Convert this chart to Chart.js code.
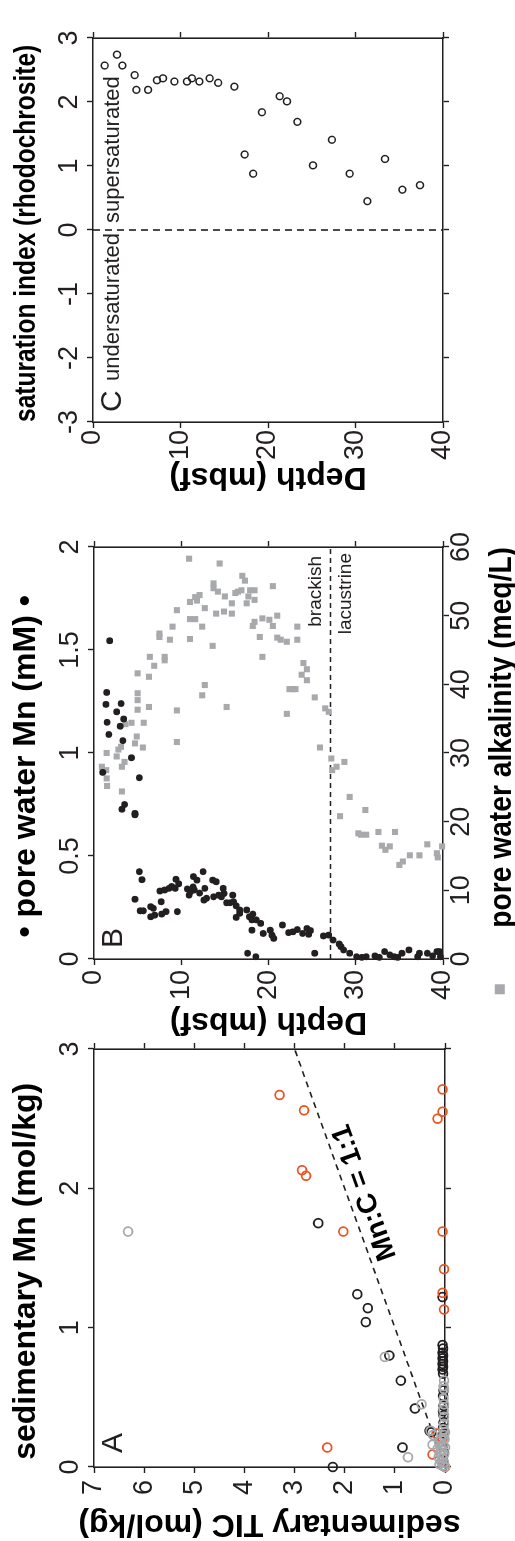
<!DOCTYPE html>
<html>
<head>
<meta charset="utf-8">
<script src="https://cdn.jsdelivr.net/npm/chart.js@4.4.0/dist/chart.umd.min.js"></script>
<style>
html, body { margin: 0; padding: 0; background: #fff; overflow: hidden; }
#fig { position: absolute; left: 0; top: 0; width: 1541px; height: 515px; transform-origin: 0 0; transform: translateY(1541px) rotate(-90deg); }
#fig canvas { position: absolute; top: 0; }
</style>
</head>
<body>
<div id="fig">
  <canvas id="chartA" width="500" height="515" style="left:0px"></canvas>
  <canvas id="chartB" width="545" height="515" style="left:500px"></canvas>
  <canvas id="chartC" width="496" height="515" style="left:1045px"></canvas>
</div>
<script>
// panel A: sedimentary Mn vs sedimentary TIC (mol/kg)
const blackMnA  = [1.75,1.24,1.14,1.04,0.80,0.62,0.42,0.14,0.00,0.26,0.25,1.22,0.875,0.85,0.82,0.80,0.78,0.76,0.74,0.72,0.70,0.67,0.55,0.51,0.44,0.40,0.37,0.32,0.28,0.24,0.21,0.18,0.15,0.10,0.05,0.01];
const blackTicA = [2.53,1.75,1.54,1.58,1.11,0.88,0.60,0.85,2.24,0.31,0.27,0.05,0.05,0.04,0.05,0.04,0.05,0.04,0.05,0.04,0.05,0.04,0.03,0.04,0.03,0.04,0.03,0.03,0.04,0.03,0.06,0.10,0.05,0.02,0.04,0.04];
const grayMnA   = [1.69,0.79,0.45,0.07,0.26,0.16,0.23,0.62,0.58,0.56,0.49,0.45,0.41,0.36,0.31,0.27,0.23,0.20,0.18,0.16,0.13,0.12,0.10,0.09,0.07,0.06,0.04,0.03,0.02,0.01,0.00,0.08,0.14,0.15,0.20,0.25];
const grayTicA  = [6.32,1.20,0.47,0.74,0.29,0.25,0.24,0.02,0.03,0.02,0.03,0.02,0.03,0.02,0.02,0.03,0.02,0.08,0.12,0.04,0.15,0.06,0.10,0.02,0.13,0.05,0.08,0.02,0.11,0.04,0.00,0.06,0.00,0.09,0.01,0.00];
const redMnA    = [2.67,2.56,2.13,2.09,1.69,0.14,0.09,0.24,2.71,2.50,2.55,1.69,1.42,1.25,1.13,0.00,0.20];
const redTicA   = [3.30,2.81,2.85,2.77,2.03,2.35,0.25,0.17,0.05,0.15,0.05,0.05,0.02,0.05,0.02,0.00,0.05];
const ratioLine = [0.2, 3.0];

// panel B: pore water Mn (mM) and alkalinity (meq/L) vs depth (mbsf)
const mnDepth = [1.0,1.8,1.45,1.37,1.5,1.7,2.6,3.1,3.0,3.4,3.3,3.5,3.2,4.3,4.7,4.7,5.2,
  5.2,5.5,4.7,5.3,5.65,6.5,6.8,6.5,6.95,7.76,8.25,7.7,7.56,8.1,8.6,8.9,9.3,9.4,9.7,9.55,10.7,10.9,11.05,11.35,11.4,11.8,11.5,12.1,12.5,12.7,12.6,12.9,13.6,14.0,13.7,14.3,14.8,14.9,14.6,15.2,15.6,15.9,16.0,16.3,16.7,16.7,16.3,17.5,17.8,18.2,18.1,18.6,19.1,18.1,19.4,20.2,20.4,20.6,21.6,22.3,22.8,23.3,23.9,24.4,24.6,24.8,
  17.6,18.55,25.3,26.3,26.9,27.4,28.1,28.3,28.6,29.3,30.1,30.7,31.2,32.2,32.7,33.3,33.9,34.4,34.8,35.3,36.1,37.1,37.3,38.2,38.8,39.3,39.6,39.7];
const mnConc = [0.906,1.545,1.294,1.236,1.149,1.09,1.2,1.24,1.13,1.165,1.06,0.75,0.727,0.977,0.707,0.70,0.88,
  0.424,0.385,0.29,0.234,0.234,0.254,0.246,0.205,0.213,0.218,0.23,0.278,0.33,0.335,0.343,0.352,0.343,0.387,0.365,0.23,0.34,0.31,0.327,0.35,0.40,0.383,0.335,0.32,0.424,0.343,0.286,0.295,0.383,0.375,0.302,0.31,0.343,0.318,0.302,0.273,0.273,0.31,0.278,0.258,0.238,0.222,0.202,0.238,0.205,0.218,0.19,0.19,0.173,0.14,0.124,0.14,0.116,0.1,0.165,0.128,0.132,0.143,0.124,0.148,0.12,0.138,
  0.028,0.011,0.028,0.112,0.116,0.092,0.073,0.06,0.044,0.028,0.011,0.008,0.011,0.015,0.008,0.036,0.02,0.011,0.008,0.028,0.044,0.011,0.028,0.028,0.015,0.036,0.036,0.011];
const alkDepth = [0.9,1.4,1.45,1.5,1.45,2.6,2.8,3.1,3.2,3.5,3.2,3.6,4.3,4.7,4.9,5.6,5.0,5.0,5.0,5.0,5.7,6.3,6.3,6.4,6.9,7.5,7.5,8.1,8.1,8.7,
  9.0,9.5,9.5,9.5,11.0,11.0,11.0,11.6,11.6,11.8,12.1,12.4,12.4,12.7,12.7,13.7,13.7,13.6,14.0,14.2,14.4,14.9,15.0,15.2,15.8,15.8,16.2,16.5,16.9,17.0,
  17.3,17.5,17.7,17.9,18.4,18.4,18.2,18.4,19.0,19.3,19.3,20.1,20.5,20.5,21.0,21.0,21.4,22.1,22.1,22.4,22.8,23.1,23.3,23.3,23.8,24.0,24.4,24.4,25.3,25.9,
  26.5,26.9,27.2,27.3,27.8,28.7,28.2,29.3,30.3,30.6,31.1,31.2,32.6,33.0,33.4,33.9,34.5,35.0,35.4,36.2,37.3,38.2,39.3,39.4,39.9,10.9];
const alkValue = [28.0,27.5,26.3,25.2,30.0,29.5,30.5,30.9,28.0,28.7,24.4,34.2,34.4,31.4,32.4,30.8,36.3,37.7,38.7,41.6,34.4,36.7,41.1,44.0,42.7,46.9,47.4,44.0,43.5,46.5,
  48.4,50.8,36.2,31.6,46.6,52.0,49.5,49.5,52.7,52.2,53.0,48.4,38.4,39.9,51.1,54.7,54.0,45.6,50.3,53.5,57.6,50.6,52.8,36.7,51.8,50.3,53.3,53.5,53.7,55.8,
  55.1,51.8,52.8,53.7,53.7,52.3,48.5,49.1,46.9,44.0,49.6,49.4,54.3,48.5,50.0,46.8,46.5,46.2,35.7,39.3,39.3,39.3,48.4,46.5,41.4,43.1,42.2,40.6,38.1,30.8,
  36.5,36.0,29.2,27.5,28.0,28.7,20.8,23.6,18.3,18.1,21.7,18.1,18.5,16.5,15.9,16.4,18.5,13.7,14.2,15.1,15.1,16.7,15.4,14.8,16.4,58.3];
const boundaryDepth = 27.1;

// panel C: saturation index (rhodochrosite) vs depth
const siDepth = [1.33,2.74,3.35,4.76,4.95,6.29,7.31,8.0,9.3,10.74,11.3,12.15,13.33,14.3,16.15,17.33,18.3,19.3,21.33,22.17,23.35,25.14,27.3,29.33,31.35,33.37,35.35,37.37];
const siValue = [2.57,2.74,2.57,2.42,2.19,2.19,2.34,2.37,2.32,2.32,2.37,2.32,2.37,2.30,2.24,1.18,0.88,1.84,2.09,2.01,1.69,1.01,1.41,0.88,0.45,1.11,0.63,0.70];

const ink = '#231f20';
const gray = '#a7a9ac';
const red = '#ea5424';
const sans = '"Liberation Sans", Arial, sans-serif';

function pts(xs, ys) {
  let out = [];
  for (let i = 0; i < Math.min(xs.length, ys.length); i++) {
    out.push({x: xs[i], y: ys[i]});
  }
  return out;
}

// force the box size of each scale so the plot areas line up with the figure
function fixed(size) {
  return function(scale) {
    if (scale.isHorizontal()) scale.height = size; else scale.width = size;
    scale.paddingLeft = 0; scale.paddingRight = 0;
    scale.paddingTop = 0; scale.paddingBottom = 0;
  };
}

function axis(position, min, max, step, size, o) {
  o = o || {};
  return {
    type: 'linear', position: position, min: min, max: max, reverse: !!o.reverse,
    border: {display: true, color: ink, width: 1.6},
    grid: {drawOnChartArea: false, drawTicks: true, tickLength: 6, tickWidth: 1.4, color: ink},
    ticks: {display: o.pad !== undefined, stepSize: step, padding: o.pad || 0, autoSkip: false, maxRotation: 0, minRotation: 0,
      color: ink, font: {family: sans, size: 27, lineHeight: 1.2},
      callback: function(v) { return String(Math.round(v * 100) / 100); }},
    title: {display: !!o.title, text: o.title || '', color: '#000', padding: o.tpad || 0,
      font: {family: sans, size: o.tsize || 32, weight: 'bold', lineHeight: 1.2}},
    afterFit: fixed(size)
  };
}

function baseOptions(scales) {
  return {
    responsive: false, animation: false, events: [],
    layout: {padding: 0},
    plugins: {legend: {display: false}, tooltip: {enabled: false}},
    scales: scales
  };
}

const labelsA = {
  id: 'labelsA',
  afterDraw(chart) {
    let ctx = chart.ctx, a = chart.chartArea;
    let xs = chart.scales.x, ys = chart.scales.y;
    ctx.save();
    ctx.fillStyle = ink;
    ctx.font = '30px ' + sans;
    ctx.fillText('A', a.left + 14, a.top + 28);
    let ang = Math.atan2(ys.getPixelForValue(3) - ys.getPixelForValue(0), xs.getPixelForValue(3) - xs.getPixelForValue(0));
    ctx.translate(xs.getPixelForValue(1.97), ys.getPixelForValue(1.6));
    ctx.rotate(ang);
    ctx.fillStyle = '#000';
    ctx.font = 'bold 28px ' + sans;
    ctx.textAlign = 'center';
    ctx.textBaseline = 'middle';
    ctx.fillText('Mn:C = 1:1', 0, 0);
    ctx.restore();
  }
};

const labelsB = {
  id: 'labelsB',
  afterDraw(chart) {
    let ctx = chart.ctx, a = chart.chartArea;
    let ly = chart.scales.y.getPixelForValue(boundaryDepth);
    ctx.save();
    ctx.fillStyle = ink;
    ctx.font = '30px ' + sans;
    ctx.fillText('B', a.left + 11, a.top + 28);
    ctx.font = '19px ' + sans;
    ctx.textAlign = 'right';
    ctx.fillText('brackish', a.right - 9, ly - 9);
    ctx.fillText('lacustrine', a.right - 6, ly + 21);
    // grey square markers beside the alkalinity title
    let sc = chart.scales.xAlk;
    ctx.font = 'bold 32px ' + sans;
    let full = sc.options.title.text;
    let w = ctx.measureText(full).width;
    let lead = ctx.measureText(full.slice(0, full.length - full.trimStart().length)).width;
    let cx = (sc.left + sc.right) / 2;
    let ty = sc.bottom - 19.2 + 6 - 2;
    ctx.fillStyle = gray;
    ctx.fillRect(cx - w / 2 + lead - 38 - 5, ty - 5, 10, 10);
    ctx.fillRect(cx + w / 2 + 38 - 5, ty - 5, 10, 10);
    ctx.restore();
  }
};

const labelsC = {
  id: 'labelsC',
  afterDraw(chart) {
    let ctx = chart.ctx, a = chart.chartArea;
    let x0 = chart.scales.x.getPixelForValue(0);
    ctx.save();
    ctx.fillStyle = ink;
    ctx.font = '30px ' + sans;
    ctx.fillText('C', a.left + 10, a.top + 28);
    ctx.font = '22px ' + sans;
    ctx.textAlign = 'right';
    ctx.fillText('undersaturated', x0 - 3, a.top + 26);
    ctx.textAlign = 'left';
    ctx.fillText('supersaturated', x0 + 7, a.top + 26);
    ctx.restore();
  }
};

const openCircle = {showLine: false, pointStyle: 'circle', backgroundColor: 'rgba(0,0,0,0)', borderWidth: 1.8, pointRadius: 4.4, clip: false};

new Chart(document.getElementById('chartA'), {
  type: 'scatter',
  data: {
    datasets: [
      Object.assign({data: pts(grayMnA, grayTicA), borderColor: gray}, openCircle),
      Object.assign({data: pts(redMnA, redTicA), borderColor: red}, openCircle),
      Object.assign({data: pts(blackMnA, blackTicA), borderColor: ink}, openCircle),
      {data: pts(ratioLine, ratioLine), showLine: true, pointRadius: 0, borderColor: ink, borderWidth: 1.6, borderDash: [6, 5]}
    ]
  },
  options: baseOptions({
    x: axis('top', 0, 3, 1, 94, {pad: 1, title: 'sedimentary Mn (mol/kg)   ', tpad: {top: 7, bottom: 0}}),
    y: axis('left', 0, 7, 1, 74, {pad: 7, title: 'sedimentary TIC (mol/kg)', tpad: {top: -2, bottom: 0}}),
    xb: Object.assign(axis('bottom', 0, 3, 1, 70), {axis: 'x'}),
    yr: Object.assign(axis('right', 0, 7, 1, 8), {axis: 'y'})
  }),
  plugins: [labelsA]
});

new Chart(document.getElementById('chartB'), {
  type: 'scatter',
  data: {
    datasets: [
      {data: pts(mnConc, mnDepth), xAxisID: 'x', yAxisID: 'y', pointStyle: 'circle', pointRadius: 3.4, backgroundColor: ink, borderWidth: 0, clip: false},
      {data: pts(alkValue, alkDepth), xAxisID: 'xAlk', yAxisID: 'y', pointStyle: 'rect', pointRadius: 4.3, backgroundColor: gray, borderWidth: 0, clip: false},
      {data: pts([0, 2], [boundaryDepth, boundaryDepth]), xAxisID: 'x', yAxisID: 'y', showLine: true, pointRadius: 0, borderColor: ink, borderWidth: 1.6, borderDash: [5, 4]}
    ]
  },
  options: baseOptions({
    x: axis('top', 0, 2, 0.5, 94, {pad: 1, title: '• pore water Mn (mM) •   ', tpad: {top: 7, bottom: 0}}),
    xAlk: Object.assign(axis('bottom', 0, 60, 10, 72, {pad: -4, title: '    pore water alkalinity (meq/L)', tpad: {top: 0, bottom: -6}}), {axis: 'x'}),
    y: axis('left', 0, 40, 10, 82, {reverse: true, pad: 5, title: 'Depth (mbsf)', tpad: {top: 0, bottom: 0}}),
    yr: Object.assign(axis('right', 0, 40, 10, 51, {reverse: true}), {axis: 'y'})
  }),
  plugins: [labelsB]
});

new Chart(document.getElementById('chartC'), {
  type: 'scatter',
  data: {
    datasets: [
      {data: pts(siValue, siDepth), pointStyle: 'circle', pointRadius: 3.4, backgroundColor: 'rgba(0,0,0,0)', borderColor: ink, borderWidth: 1.5, clip: false},
      {data: pts([0, 0], [0, 40]), showLine: true, pointRadius: 0, borderColor: ink, borderWidth: 1.6, borderDash: [7, 5]}
    ]
  },
  options: baseOptions({
    x: axis('top', -3, 3, 1, 93, {pad: 1, title: 'saturation index (rhodochrosite) ', tsize: 29, tpad: {top: 10, bottom: 0}}),
    y: axis('left', 0, 40, 10, 74, {reverse: true, pad: 2, title: 'Depth (mbsf)', tpad: {top: 0, bottom: 0}}),
    xb: Object.assign(axis('bottom', -3, 3, 1, 72), {axis: 'x'}),
    yr: Object.assign(axis('right', 0, 40, 10, 38, {reverse: true}), {axis: 'y'})
  }),
  plugins: [labelsC]
});
</script>
</body>
</html>
